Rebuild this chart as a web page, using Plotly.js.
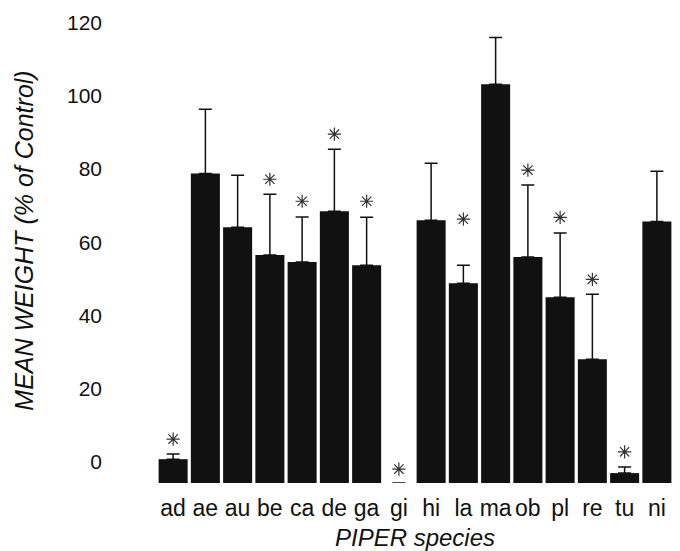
<!DOCTYPE html>
<html>
<head>
<meta charset="utf-8">
<script src="https://cdn.plot.ly/plotly-3.0.1.min.js"></script>
<style>html,body{margin:0;padding:0;background:#fff;}#chart{width:680px;height:551px;}</style>
</head>
<body>
<div id="chart"></div>
<script>
// PIPER species codes
var species = ['ad','ae','au','be','ca','de','ga','gi','hi','la','ma','ob','pl','re','tu','ni'];
// Mean weight (% of control)
var meanWeight = [6.5, 84.5, 69.8, 62.2, 60.3, 74.2, 59.4, 0, 71.7, 54.5, 108.8, 61.7, 50.7, 33.8, 2.7, 71.4];
// Upper error (SE)
var errorUp = [1.4, 17.5, 14.2, 16.6, 12.3, 16.9, 13.1, 0, 15.6, 4.9, 12.8, 19.6, 17.5, 17.7, 1.7, 13.7];
var errorDown = [0,0,0,0,0,0,0,0,0,0,0,0,0,0,0,0];
// Significance asterisk heights (null = not significant)
var asteriskY = [12.0, null, null, 82.9, 76.9, 95.2, 76.9, 3.8, null, 72.0, null, 85.4, 72.5, 55.6, 8.5, null];
var yTicks = [0, 20, 40, 60, 80, 100, 120];

var xIdx = species.map(function(_, i){ return i; });

var bars = {
  type: 'bar',
  x: xIdx,
  y: meanWeight,
  marker: {color: '#111111', line: {color: '#111111', width: 0}},
  error_y: {type: 'data', symmetric: false, array: errorUp, arrayminus: errorDown,
            color: '#111111', thickness: 1.5, width: 6.5},
  hoverinfo: 'x+y'
};

var stars = {
  type: 'scatter',
  mode: 'markers',
  x: xIdx,
  y: asteriskY,
  marker: {symbol: 'asterisk-open', size: 11, color: '#333333', line: {color: '#333333', width: 1.2}},
  hoverinfo: 'skip'
};

var layout = {
  width: 680, height: 551,
  margin: {l: 157, r: 7, t: 25, b: 68},
  paper_bgcolor: '#ffffff', plot_bgcolor: '#ffffff',
  showlegend: false,
  bargap: 0.1,
  font: {family: '"Liberation Sans", Arial, Helvetica, sans-serif', color: '#111111'},
  xaxis: {
    range: [-0.5, 15.5],
    tickmode: 'array', tickvals: xIdx, ticktext: species,
    tickfont: {size: 23, color: '#111111'},
    ticklabelstandoff: 9,
    showline: false, showgrid: false, zeroline: false, ticks: '',
    title: {text: '<i>PIPER species</i>', font: {size: 24, color: '#111111'}, standoff: 14}
  },
  yaxis: {
    range: [0, 125],
    tickmode: 'array', tickvals: yTicks, ticktext: yTicks.map(String),
    tickfont: {size: 21, color: '#111111'},
    ticklabelshift: -21,
    ticklabelstandoff: 54,
    showline: false, showgrid: false, zeroline: false, ticks: ''
  },
  annotations: [{
    text: '<i>MEAN WEIGHT (% of Control)</i>',
    xref: 'paper', yref: 'paper',
    x: -0.257, y: 0.53, xanchor: 'center', yanchor: 'middle',
    textangle: -90, showarrow: false,
    font: {size: 25, color: '#111111'}
  }]
};

Plotly.newPlot('chart', [bars, stars], layout, {displayModeBar: false, staticPlot: true});
</script>
</body>
</html>
